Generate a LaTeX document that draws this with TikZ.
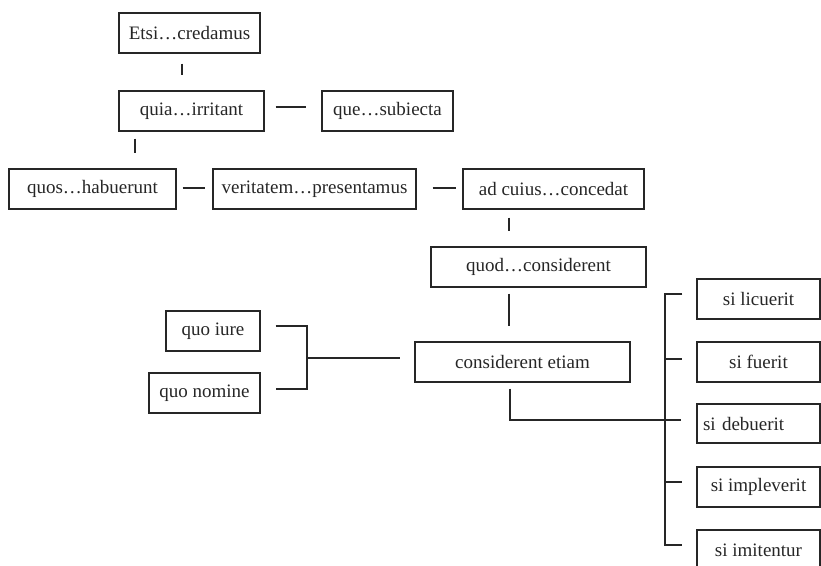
\documentclass[tikz,border=0pt]{standalone}
\usepackage{fontspec}
\setmainfont{Liberation Serif}
\usetikzlibrary{calc}
\definecolor{ink}{HTML}{262626}
\tikzset{
  box/.style={draw=ink, line width=1.3pt, minimum height=40pt, inner sep=0pt,
    text=ink, font=\fontsize{19}{22}\selectfont},
  conn/.style={draw=ink, line width=1.4pt}
}
\begin{document}
\begin{tikzpicture}[x=1pt,y=-1pt]
\useasboundingbox (0,0) rectangle (821,565);
\clip (0,0) rectangle (821,565);
% boxes
\node[box, minimum width=141pt] (etsi) at (189.5,33) {Etsi…credamus};
\node[box, minimum width=145pt] (quia) at (191.5,111) {quia…irritant};
\node[box, minimum width=131pt] (que) at (387.5,111) {que…subiecta};
\node[box, minimum width=167pt] (quos) at (92.5,189) {quos…habuerunt};
\node[box, minimum width=203pt] (verit) at (314.5,189) {veritatem…presentamus};
\node[box, minimum width=181pt] (adc) at (553.5,189) {ad cuius…concedat};
\node[box, minimum width=215pt] (quod) at (538.5,267) {quod…considerent};
\node[box, minimum width=215pt] (cons) at (522.5,362) {considerent etiam};
\node[box, minimum width=94pt] (iure) at (213,331) {quo iure};
\node[box, minimum width=111pt] (nom) at (204.5,393) {quo nomine};
\node[box, minimum width=123pt] (lic) at (758.5,299) {si licuerit};
\node[box, minimum width=123pt] (fuer) at (758.5,362) {si fuerit};
\node[box, minimum height=39pt, text width=111pt, inner xsep=6pt, align=left] (deb) at (758.5,423.5) {si debuerit};
\node[box, minimum width=123pt] (impl) at (758.5,487) {si impleverit};
\node[box, minimum width=123pt] (imit) at (758.5,550) {si imitentur};
% connectors
\draw[conn] ($(etsi.south)+(-7.5,10)$) -- ($(quia.north)+(-9.5,-15)$);
\draw[conn] ($(quia.east)+(11,-4)$) -- ($(que.west)+(-15,-4)$);
\draw[conn] ($(quia.south)+(-56.5,7)$) -- ($(quos.north)+(42.5,-15)$);
\draw[conn] ($(quos.east)+(6,-1)$) -- ($(verit.west)+(-7,-1)$);
\draw[conn] ($(verit.east)+(16,-1)$) -- ($(adc.west)+(-6,-1)$);
\draw[conn] ($(adc.south)+(-44.5,8)$) -- ($(quod.north)+(-29.5,-15)$);
\draw[conn] ($(quod.south)+(-29.5,6)$) -- ($(cons.north)+(-13.5,-15)$);
% left bracket
\coordinate (lb) at (307,358);
\draw[conn] ($(iure.east)+(15,-5)$) -| (lb) |- ($(nom.east)+(15,-4)$);
\draw[conn] (lb) -- ($(cons.west)+(-14,-4)$);
% from considerent etiam to si debuerit
\draw[conn] ($(cons.south)+(-12.5,6)$) |- ($(deb.west)+(-15,-3.5)$);
% right bracket
\coordinate (rb) at (665,420);
\draw[conn] ($(lic.west)+(-14,-5)$) -| (rb) |- ($(imit.west)+(-14,-5)$);
\draw[conn] ($(fuer.west)+(-32,-3)$) -- ($(fuer.west)+(-14,-3)$);
\draw[conn] ($(impl.west)+(-32,-5)$) -- ($(impl.west)+(-14,-5)$);
\end{tikzpicture}
\end{document}
